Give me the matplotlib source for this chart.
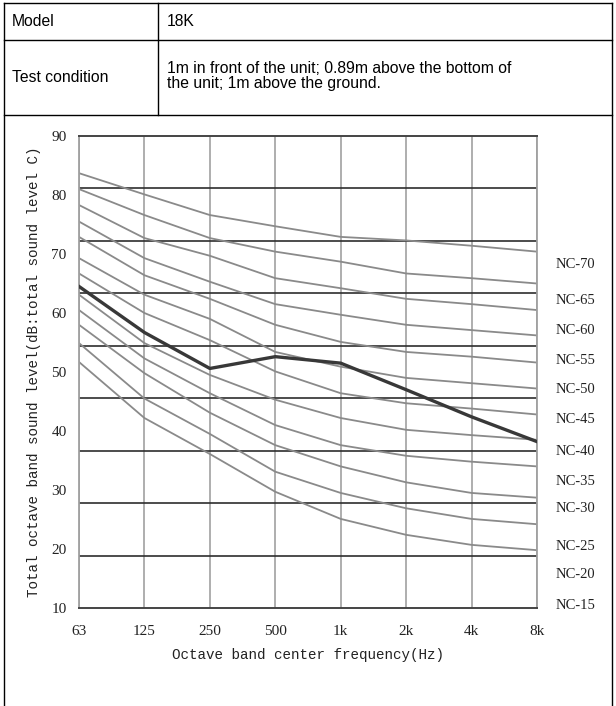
import numpy as np
import matplotlib.pyplot as plt
from matplotlib.lines import Line2D
from matplotlib.transforms import blended_transform_factory

W, H = 616, 706

freqs = ['63', '125', '250', '500', '1k', '2k', '4k', '8k']

# reference NC curves, top to bottom
curve_1 = [83.7, 80.1, 76.6, 74.7, 72.9, 72.3, 71.4, 70.4]
curve_2 = [81.0, 76.6, 72.7, 70.4, 68.7, 66.7, 65.9, 65.0]
curve_3 = [78.3, 72.7, 69.7, 65.9, 64.2, 62.4, 61.5, 60.5]
curve_4 = [75.5, 69.3, 65.3, 61.5, 59.7, 58.0, 57.1, 56.2]
curve_5 = [72.9, 66.4, 62.4, 58.0, 55.1, 53.4, 52.6, 51.6]
curve_6 = [69.3, 63.1, 59.0, 53.4, 50.9, 49.0, 48.1, 47.2]
curve_7 = [66.7, 60.0, 55.4, 50.1, 46.4, 44.7, 43.8, 42.8]
curve_8 = [63.1, 54.9, 49.5, 45.3, 42.2, 40.2, 39.3, 38.5]
curve_9 = [60.5, 52.3, 46.4, 41.0, 37.6, 35.8, 34.8, 34.0]
curve_10 = [58.0, 49.8, 43.1, 37.6, 34.0, 31.3, 29.5, 28.7]
curve_11 = [54.9, 45.5, 39.5, 33.1, 29.5, 26.9, 25.1, 24.2]
curve_12 = [51.7, 42.2, 36.1, 29.7, 25.1, 22.4, 20.7, 19.8]

# measured unit spectrum (18K)
measured = [64.5, 56.7, 50.6, 52.6, 51.5, 47.0, 42.4, 38.2]

nc_names = ['NC-70', 'NC-65', 'NC-60', 'NC-55', 'NC-50', 'NC-45',
            'NC-40', 'NC-35', 'NC-30', 'NC-25', 'NC-20', 'NC-15']
nc_label_levels = [68.3, 62.2, 57.0, 51.9, 47.0, 41.9,
                   36.6, 31.5, 26.8, 20.5, 15.6, 10.5]

curves = [curve_1, curve_2, curve_3, curve_4, curve_5, curve_6,
          curve_7, curve_8, curve_9, curve_10, curve_11, curve_12]


def fx(px):
    return px / W


def fy(py):
    return 1 - py / H


fig = plt.figure(figsize=(W / 100, H / 100), dpi=100)

# table frame
frame = dict(color='black', lw=1.0, transform=fig.transFigure)
fig.add_artist(Line2D([fx(4), fx(612)], [fy(3), fy(3)], **frame))
fig.add_artist(Line2D([fx(4), fx(612)], [fy(40), fy(40)], **frame))
fig.add_artist(Line2D([fx(4), fx(612)], [fy(115), fy(115)], **frame))
fig.add_artist(Line2D([fx(4), fx(4)], [fy(3), fy(706)], **frame))
fig.add_artist(Line2D([fx(612), fx(612)], [fy(3), fy(706)], **frame))
fig.add_artist(Line2D([fx(158), fx(158)], [fy(3), fy(115)], **frame))

sans = 'Liberation Sans'
fs = 11.3
fig.text(fx(12), fy(22), 'Model', va='center', fontsize=fs, family=sans)
fig.text(fx(167), fy(22), '18K', va='center', fontsize=fs, family=sans)
fig.text(fx(12), fy(77), 'Test condition', va='center', fontsize=fs, family=sans)
fig.text(fx(167), fy(76),
         '1m in front of the unit; 0.89m above the bottom of\nthe unit; 1m above the ground.',
         va='center', fontsize=fs, family=sans, linespacing=0.98)

# chart
ax = fig.add_axes([fx(79), fy(608), (537 - 79) / W, (608 - 136) / H])
x = np.arange(len(freqs))

for xi in x:
    ax.axvline(xi, color='#a8a8a8', lw=1.3, zorder=1)
for yv in np.linspace(10, 90, 10)[1:-1]:
    ax.axhline(yv, color='#2e2e2e', lw=1.2, zorder=1)

for c in curves:
    ax.plot(x, c, color='#8a8a8a', lw=1.3, zorder=2)
ax.plot(x, measured, color='#383838', lw=2.4, zorder=3)

ax.set_xlim(0, len(freqs) - 1)
ax.set_ylim(10, 90)
ax.set_xticks(x, freqs)
ax.set_yticks(range(10, 91, 10))
ax.tick_params(axis='x', length=0, pad=12)
ax.tick_params(axis='y', length=0, pad=9)
for lab in ax.get_xticklabels() + ax.get_yticklabels():
    lab.set_fontfamily('Liberation Serif')
    lab.set_fontsize(11)
    lab.set_color('#222222')

for side in ['top', 'bottom']:
    ax.spines[side].set_color('#444444')
    ax.spines[side].set_linewidth(1.4)
for side in ['left', 'right']:
    ax.spines[side].set_color('#a0a0a0')
    ax.spines[side].set_linewidth(1.3)

mono = 'Liberation Mono'
ax.set_xlabel('Octave band center frequency(Hz)', family=mono, fontsize=10.3,
              color='#222222')
ax.xaxis.set_label_coords(0.5, -0.085)
ax.set_ylabel('Total octave band sound level(dB:total sound level C)',
              family=mono, fontsize=10.3, color='#222222')
ax.yaxis.set_label_coords(-0.083, 0.5)

tr = blended_transform_factory(ax.transAxes, ax.transData)
for name, lvl in zip(nc_names, nc_label_levels):
    ax.text(1.041, lvl, name, transform=tr, va='center', ha='left',
            family='Liberation Serif', fontsize=10.5, color='#222222',
            clip_on=False)

fig.savefig('out.png', dpi=100)
